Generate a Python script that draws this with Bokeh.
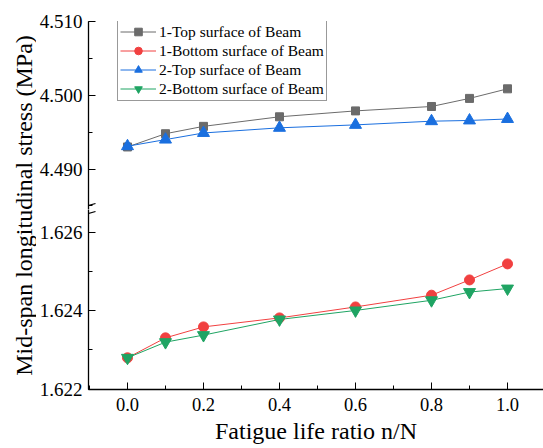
import math
from bokeh.plotting import figure
from bokeh.models import (Range1d, SingleIntervalTicker, NumeralTickFormatter, Label,
                          Arrow, Legend, LegendItem)
from bokeh.layouts import row, column
from bokeh.embed import file_html
from bokeh.resources import INLINE

# ---- data ----
ratio = [0.0, 0.1, 0.2, 0.4, 0.6, 0.8, 0.9, 1.0]
top_beam1 = [4.4930, 4.4948, 4.4958, 4.4971, 4.4979, 4.4985, 4.4996, 4.5009]
top_beam2 = [4.4931, 4.4940, 4.4949, 4.4956, 4.4960, 4.4965, 4.4966, 4.4968]
bot_beam1 = [1.6228, 1.62331, 1.62359, 1.62382, 1.6241, 1.6244, 1.62479, 1.6252]
bot_beam2 = [1.6228, 1.6232, 1.62338, 1.62378, 1.62401, 1.62427, 1.62448, 1.62457]
labels = ["1-Top surface of Beam", "1-Bottom surface of Beam",
          "2-Top surface of Beam", "2-Bottom surface of Beam"]
colors = ["#6b6b6b", "#F14040", "#1A6FDF", "#1FA463"]

FONT = "Liberation Serif"
X0, X1 = -0.1026, 1.0947
TOP_Y = (4.4845, 4.51005)
BOT_Y = (1.62199, 1.62659)


def style_axes(p, show_x):
    p.outline_line_color = None
    p.xgrid.visible = False
    p.ygrid.visible = False
    p.background_fill_color = "white"
    p.border_fill_color = "white"
    p.yaxis.axis_line_color = "black"
    p.yaxis.axis_line_width = 1.3
    p.yaxis.major_tick_in = 7
    p.yaxis.major_tick_out = 0
    p.yaxis.minor_tick_in = 4
    p.yaxis.minor_tick_out = 0
    p.yaxis.major_tick_line_color = "black"
    p.yaxis.minor_tick_line_color = "black"
    p.yaxis.major_label_text_font = FONT
    p.yaxis.major_label_text_font_size = "19px"
    p.yaxis.major_label_text_color = "black"
    p.yaxis.major_label_standoff = 6
    p.yaxis.formatter = NumeralTickFormatter(format="0.000")
    if show_x:
        p.xaxis.ticker = SingleIntervalTicker(interval=0.2, num_minor_ticks=2)
        p.xaxis.formatter = NumeralTickFormatter(format="0.0")
        p.xaxis.axis_line_color = "black"
        p.xaxis.axis_line_width = 1.3
        p.xaxis.major_tick_in = 7
        p.xaxis.major_tick_out = 0
        p.xaxis.minor_tick_in = 4
        p.xaxis.minor_tick_out = 0
        p.xaxis.major_tick_line_color = "black"
        p.xaxis.minor_tick_line_color = "black"
        p.xaxis.major_label_text_font = FONT
        p.xaxis.major_label_text_font_size = "18.5px"
        p.xaxis.major_label_text_color = "black"
        p.xaxis.major_label_standoff = 8
        p.xaxis.axis_label = "Fatigue life ratio n/N"
        p.xaxis.axis_label_text_font = FONT
        p.xaxis.axis_label_text_font_size = "24px"
        p.xaxis.axis_label_text_font_style = "normal"
        p.xaxis.axis_label_text_color = "black"
        p.xaxis.axis_label_standoff = 4
    else:
        p.xaxis.visible = False


# ---- top panel ----
p_top = figure(width=507, height=209, output_backend="svg", toolbar_location=None,
               x_range=Range1d(X0, X1), y_range=Range1d(*TOP_Y),
               min_border_left=52, min_border_right=0, min_border_top=21,
               min_border_bottom=0, title=None)
style_axes(p_top, False)
p_top.yaxis.ticker = SingleIntervalTicker(interval=0.01, num_minor_ticks=2)

# ---- bottom panel ----
p_bot = figure(width=507, height=239, output_backend="svg", toolbar_location=None,
               x_range=p_top.x_range, y_range=Range1d(*BOT_Y),
               min_border_left=52, min_border_right=0, min_border_top=0,
               min_border_bottom=59, title=None)
style_axes(p_bot, True)
p_bot.yaxis.ticker = SingleIntervalTicker(interval=0.002, num_minor_ticks=2)

l1 = p_top.line(ratio, top_beam1, line_color=colors[0], line_width=1)
m1 = p_top.scatter(ratio, top_beam1, marker="square", size=8, fill_color=colors[0],
                   line_color=colors[0])
l3 = p_top.line(ratio, top_beam2, line_color=colors[2], line_width=1)
m3 = p_top.scatter(ratio, top_beam2, marker="triangle", size=12, fill_color=colors[2],
                   line_color=colors[2])
p_bot.line(ratio, bot_beam1, line_color=colors[1], line_width=1)
p_bot.scatter(ratio, bot_beam1, marker="circle", size=10, fill_color=colors[1],
              line_color=colors[1])
p_bot.line(ratio, bot_beam2, line_color=colors[3], line_width=1)
p_bot.scatter(ratio, bot_beam2, marker="inverted_triangle", size=12, fill_color=colors[3],
              line_color=colors[3])

# legend entries for the bottom-panel series (their values lie outside the top
# panel's y range, so only the legend glyph shows there)
l2 = p_top.line(ratio, bot_beam1, line_color=colors[1], line_width=1)
m2 = p_top.scatter(ratio, bot_beam1, marker="circle", size=10,
                   fill_color=colors[1], line_color=colors[1])
l4 = p_top.line(ratio, bot_beam2, line_color=colors[3], line_width=1)
m4 = p_top.scatter(ratio, bot_beam2, marker="inverted_triangle", size=12,
                   fill_color=colors[3], line_color=colors[3])

legend = Legend(items=[
    LegendItem(label=labels[0], renderers=[l1, m1]),
    LegendItem(label=labels[1], renderers=[l2, m2]),
    LegendItem(label=labels[2], renderers=[l3, m3]),
    LegendItem(label=labels[3], renderers=[l4, m4]),
], location=(29, 108))
legend.margin = 0
legend.padding = 2
legend.spacing = 0
legend.glyph_width = 36
legend.glyph_height = 19
legend.label_height = 19
legend.label_standoff = 3
legend.label_text_font = FONT
legend.label_text_font_size = "15.5px"
legend.label_text_color = "black"
legend.border_line_color = "#333333"
legend.border_line_width = 1
legend.background_fill_color = "white"
legend.background_fill_alpha = 1
p_top.add_layout(legend, "center")

# ---- axis break marks ----
px_x = (X1 - X0) / 455.0
px_top = (TOP_Y[1] - TOP_Y[0]) / 188.0
px_bot = (BOT_Y[1] - BOT_Y[0]) / 180.0
p_top.add_layout(Arrow(end=None, x_start=X0 - 7 * px_x, y_start=TOP_Y[0] + 2 * px_top,
                       x_end=X0 + 7 * px_x, y_end=TOP_Y[0] + 6 * px_top,
                       line_color="black", line_width=1.3))
p_bot.add_layout(Arrow(end=None, x_start=X0 - 7 * px_x, y_start=BOT_Y[1] - 6 * px_bot,
                       x_end=X0 + 7 * px_x, y_end=BOT_Y[1] - 2 * px_bot,
                       line_color="black", line_width=1.3))

# ---- shared y label ----
p_lab = figure(width=36, height=448, output_backend="svg", toolbar_location=None,
               x_range=Range1d(0, 36), y_range=Range1d(0, 368),
               min_border_left=0, min_border_right=0, min_border_top=21,
               min_border_bottom=59, title=None)
p_lab.axis.visible = False
p_lab.grid.visible = False
p_lab.outline_line_color = None
p_lab.add_layout(Label(x=23, y=184, text="Mid-span longitudinal stress (MPa)",
                       angle=math.pi / 2, text_align="center", text_baseline="middle",
                       text_font=FONT, text_font_size="24px", text_color="black"))

layout = row(p_lab, column(p_top, p_bot, spacing=0), spacing=0)
open("out.html", "w").write(file_html(layout, INLINE))
